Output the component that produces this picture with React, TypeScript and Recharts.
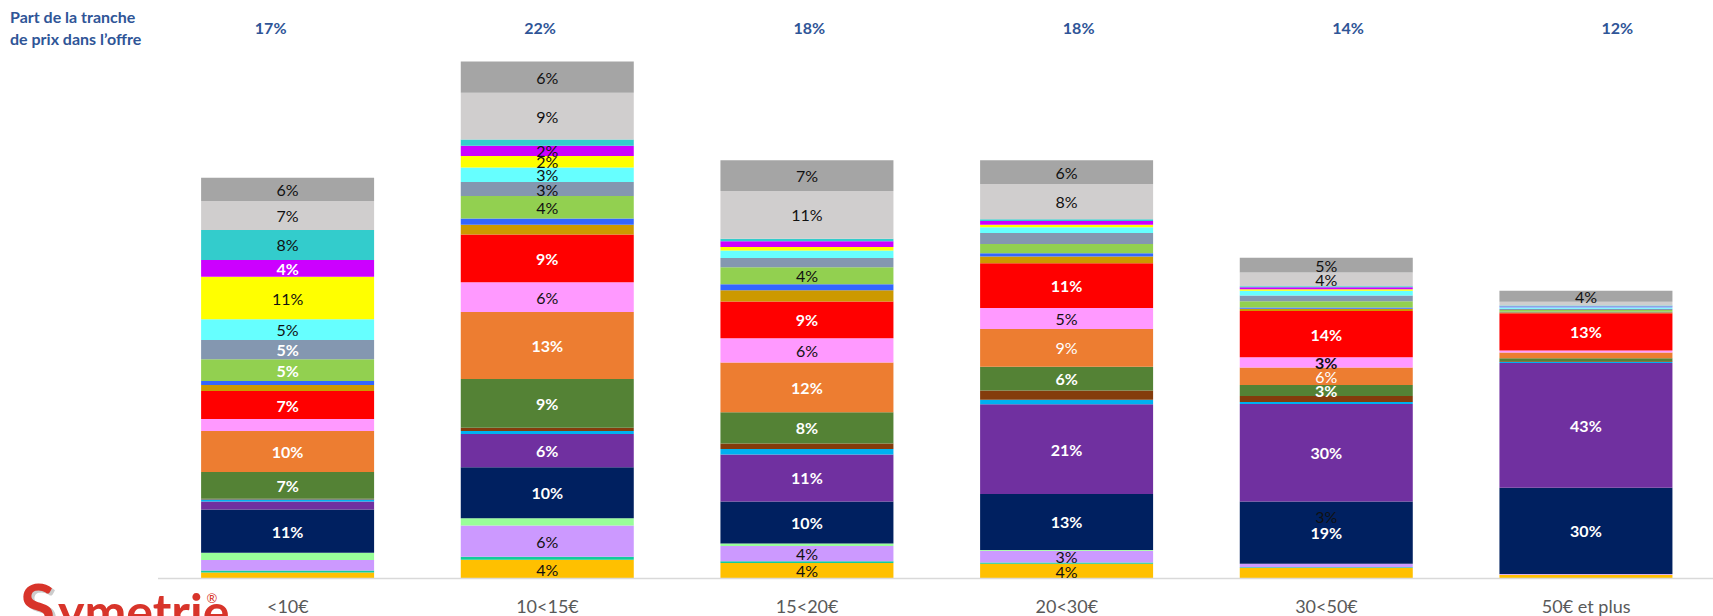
import React from 'react';
import { BarChart, Bar, XAxis, YAxis, LabelList } from 'recharts';

// tranches de prix
const CATEGORIES = ['<10€', '10<15€', '15<20€', '20<30€', '30<50€', '50€ et plus'];
const OFFER_SHARE = [17.05, 22.0, 17.8, 17.8, 13.65, 12.25];

// répartition interne de chaque tranche (%), du bas vers le haut de la pile
const GOLD = [1.5, 3.6, 3.7, 3.5, 3.3, 1.3];
const TEAL_GREEN = [0.5, 0.6, 0.4, 0.3, 0.2, 0];
const LAVENDER = [2.6, 6.0, 3.7, 2.8, 1.1, 0.3];
const LIGHT_GREEN = [1.8, 1.4, 0.6, 0.2, 0, 0];
const NAVY = [10.8, 9.8, 10.0, 13.4, 19.4, 29.9];
const PURPLE = [2.0, 6.4, 11.3, 21.4, 30.4, 43.4];
const LIGHT_BLUE = [0.5, 0.6, 1.3, 1.1, 0.6, 0.3];
const BROWN = [0.2, 0.6, 1.3, 2.2, 1.9, 0.3];
const DARK_GREEN = [6.7, 9.4, 7.5, 5.7, 3.4, 1.0];
const ORANGE = [10.2, 12.9, 11.9, 9.0, 5.5, 2.0];
const PINK = [3.0, 5.7, 5.8, 5.0, 3.2, 0.7];
const RED = [7.0, 9.2, 8.8, 10.7, 14.4, 12.9];
const DARK_GOLD = [1.5, 1.9, 2.7, 1.6, 0.7, 0.4];
const BLUE = [1.0, 1.2, 1.4, 0.8, 0.4, 0.2];
const YELLOW_GREEN = [5.4, 4.3, 4.1, 2.2, 1.9, 0.6];
const GRAY_BLUE = [4.8, 2.7, 2.2, 2.6, 1.8, 0.4];
const CYAN = [5.2, 2.8, 1.8, 1.4, 1.5, 0.5];
const YELLOW = [10.6, 2.2, 0.8, 0.6, 0.5, 0];
const MAGENTA = [4.2, 2.0, 1.4, 0.9, 0.6, 0.3];
const TEAL = [7.5, 1.2, 0.6, 0.4, 0.3, 0.3];
const LIGHT_GRAY = [7.2, 9.0, 11.4, 8.4, 4.3, 1.3];
const GRAY = [5.8, 6.0, 7.4, 5.7, 4.6, 3.9];

type Serie = { key: string; color: string; values: number[]; shown: number[]; white?: boolean };

const SERIES: Serie[] = [
  { key: 'gold', color: '#FFC000', values: GOLD, shown: [1, 2, 3, 4] },
  { key: 'tealGreen', color: '#12CC9C', values: TEAL_GREEN, shown: [] },
  { key: 'lavender', color: '#CC99FF', values: LAVENDER, shown: [1, 2, 3] },
  { key: 'lightGreen', color: '#99FF99', values: LIGHT_GREEN, shown: [] },
  { key: 'navy', color: '#002060', values: NAVY, shown: [0, 1, 2, 3, 4, 5], white: true },
  { key: 'purple', color: '#7030A0', values: PURPLE, shown: [1, 2, 3, 4, 5], white: true },
  { key: 'lightBlue', color: '#00B0F0', values: LIGHT_BLUE, shown: [] },
  { key: 'brown', color: '#843C0C', values: BROWN, shown: [] },
  { key: 'darkGreen', color: '#548235', values: DARK_GREEN, shown: [0, 1, 2, 3, 4], white: true },
  { key: 'orange', color: '#ED7D31', values: ORANGE, shown: [0, 1, 2, 3, 4], white: true },
  { key: 'pink', color: '#FF99FF', values: PINK, shown: [1, 2, 3, 4] },
  { key: 'red', color: '#FF0000', values: RED, shown: [0, 1, 2, 3, 4, 5], white: true },
  { key: 'darkGold', color: '#CC9900', values: DARK_GOLD, shown: [] },
  { key: 'blue', color: '#3366FF', values: BLUE, shown: [] },
  { key: 'yellowGreen', color: '#92D050', values: YELLOW_GREEN, shown: [0, 1, 2] },
  { key: 'grayBlue', color: '#8497B0', values: GRAY_BLUE, shown: [0, 1] },
  { key: 'cyan', color: '#66FFFF', values: CYAN, shown: [0, 1] },
  { key: 'yellow', color: '#FFFF00', values: YELLOW, shown: [0, 1] },
  { key: 'magenta', color: '#CC00FF', values: MAGENTA, shown: [0, 1], white: true },
  { key: 'teal', color: '#33CCCC', values: TEAL, shown: [0] },
  { key: 'lightGray', color: '#D0CECE', values: LIGHT_GRAY, shown: [0, 1, 2, 3, 4] },
  { key: 'gray', color: '#A5A5A5', values: GRAY, shown: [0, 1, 2, 3, 4, 5] },
];

// exceptions de style des étiquettes (couleur, graisse, décalage)
const LABEL_STYLE: Record<string, { white?: boolean; bold?: boolean; dy?: number }> = {
  'grayBlue-0': { white: true, bold: true },
  'yellowGreen-0': { white: true, bold: true },
  'magenta-1': { white: false, bold: false },
  'orange-3': { white: true, bold: false },
  'orange-4': { white: true, bold: false },
  'pink-4': { white: false, bold: true },
  'gold-4': { dy: -57 },
};

const FONT = 'Lato, "Open Sans", sans-serif';
const BLUE_TEXT = '#2F5597';

const data = CATEGORIES.map((cat, i) => {
  const total = SERIES.reduce((acc, s) => acc + s.values[i], 0);
  const row: Record<string, string | number> = { cat, share: `${Math.round(OFFER_SHARE[i])}%` };
  SERIES.forEach(s => {
    row[s.key] = (s.values[i] / total) * OFFER_SHARE[i];
  });
  return row;
});

const makeLabel = (s: Serie) => (props: any) => {
  const { x, y, width, height, index } = props;
  if (!s.shown.includes(index)) return null;
  const o = LABEL_STYLE[`${s.key}-${index}`] || {};
  const white = o.white ?? !!s.white;
  const bold = o.bold ?? !!s.white;
  return (
    <text
      x={x + width / 2}
      y={y + height / 2 + (o.dy || 0)}
      textAnchor="middle"
      dominantBaseline="central"
      fill={white ? '#ffffff' : '#111111'}
      fontWeight={bold ? 700 : 400}
      fontSize={16}
      fontFamily={FONT}
    >
      {Math.round(s.values[index])}%
    </text>
  );
};

const ShareTick = (props: any) => (
  <text x={props.x} y={34} textAnchor="middle" fill={BLUE_TEXT} fontWeight={700} fontSize={16} fontFamily={FONT}>
    {props.payload.value}
  </text>
);

const App: React.FC = () => {
  return (
    <div style={{ position: 'absolute', left: 0, top: 0, width: 1713, height: 616, overflow: 'hidden', background: '#fff' }}>
      <BarChart
        width={1716}
        height={616}
        data={data}
        margin={{ top: 0, right: 0, bottom: 0, left: 158 }}
        barCategoryGap="16.6%"
      >
        <XAxis
          dataKey="cat"
          height={37.5}
          interval={0}
          tickLine={false}
          tickSize={0}
          tickMargin={22}
          axisLine={{ stroke: '#D9D9D9', strokeWidth: 1.5 }}
          tick={{ fill: '#595959', fontSize: 18, fontFamily: FONT }}
        />
        <XAxis
          xAxisId="top"
          orientation="top"
          dataKey="share"
          height={14.5}
          interval={0}
          axisLine={false}
          tickLine={false}
          padding={{ left: -22, right: -36 }}
          tick={<ShareTick />}
        />
        <YAxis hide domain={[0, 24]} />
        {SERIES.map(s => (
          <Bar key={s.key} dataKey={s.key} stackId="a" fill={s.color} isAnimationActive={false}>
            <LabelList dataKey={s.key} content={makeLabel(s)} />
          </Bar>
        ))}
      </BarChart>
      <svg width={1713} height={616} style={{ position: 'absolute', left: 0, top: 0, pointerEvents: 'none' }}>
        <text x={10} y={23} fill={BLUE_TEXT} fontWeight={700} fontSize={16} fontFamily={FONT}>
          Part de la tranche
        </text>
        <text x={10} y={45} fill={BLUE_TEXT} fontWeight={700} fontSize={16} fontFamily={FONT}>
          de prix dans l’offre
        </text>
        <text x={23} y={632} fill="#9a9a9a" fontWeight={700} fontSize={64} fontFamily={FONT} opacity={0.5}>
          S
        </text>
        <text x={20} y={630} fill="#D8342A" fontWeight={700} fontSize={64} fontFamily={FONT}>
          S
        </text>
        <text x={58} y={630} fill="#D8342A" fontWeight={700} fontSize={50} fontFamily={FONT}>
          ymetrie
        </text>
        <text x={212} y={603} textAnchor="middle" fill="#D8342A" fontSize={13} fontFamily={FONT}>
          ®
        </text>
      </svg>
    </div>
  );
};

export default App;
